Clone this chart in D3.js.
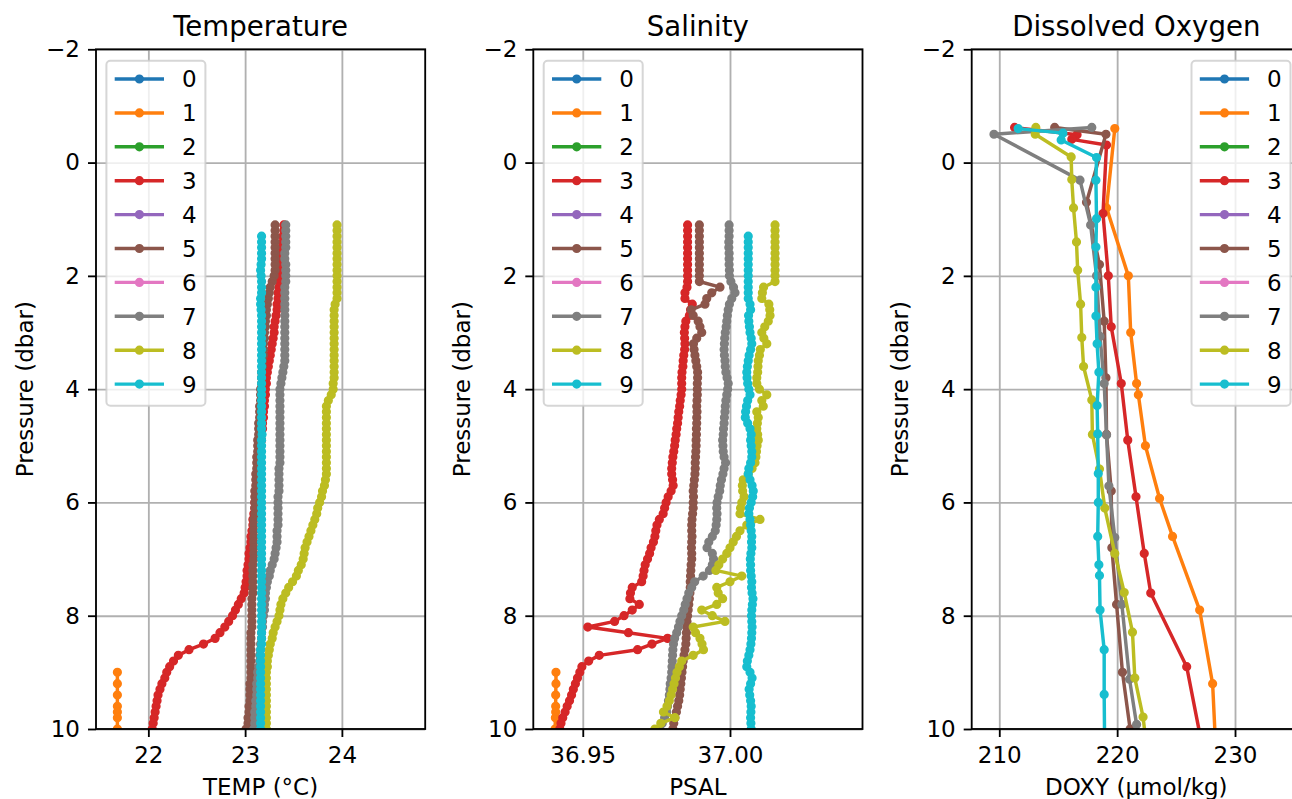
<!DOCTYPE html>
<html>
<head>
<meta charset="utf-8">
<script src="https://cdn.jsdelivr.net/npm/d3@7"></script>
<style>
  body { margin: 0; background: #fff; }
  svg { display: block; }
</style>
</head>
<body>
<div id="chart"></div>
<script>
// profile ids shown in the legends and their tab10 colours
const profileIds = ["0", "1", "2", "3", "4", "5", "6", "7", "8", "9"];
const profileColors = ["#1f77b4", "#ff7f0e", "#2ca02c", "#d62728", "#9467bd",
                       "#8c564b", "#e377c2", "#7f7f7f", "#bcbd22", "#17becf"];

// tick labels
const presTicks = [-2, 0, 2, 4, 6, 8, 10];
const tempTicks = [22, 23, 24];
const psalTicks = [36.95, 37.00];
const doxyTicks = [210, 220, 230];

// CTD pressure grid (dbar), profiles 3,5,7,8 start at 1.1, profile 9 at 1.3
const ctdPres = [1.1, 1.2, 1.3, 1.4, 1.5, 1.6, 1.7, 1.8, 1.9, 2.0,
  2.1, 2.2, 2.3, 2.4, 2.5, 2.6, 2.7, 2.8, 2.9, 3.0,
  3.1, 3.2, 3.3, 3.4, 3.5, 3.6, 3.7, 3.8, 3.9, 4.0,
  4.1, 4.2, 4.3, 4.4, 4.5, 4.6, 4.7, 4.8, 4.9, 5.0,
  5.1, 5.2, 5.3, 5.4, 5.5, 5.6, 5.7, 5.8, 5.9, 6.0,
  6.1, 6.2, 6.3, 6.4, 6.5, 6.6, 6.7, 6.8, 6.9, 7.0,
  7.1, 7.2, 7.3, 7.4, 7.5, 7.6, 7.7, 7.8, 7.9, 8.0,
  8.1, 8.2, 8.3, 8.4, 8.5, 8.6, 8.7, 8.8, 8.9, 9.0,
  9.1, 9.2, 9.3, 9.4, 9.5, 9.6, 9.7, 9.8, 9.9, 10.0,
  10.1];
const ctdPres9 = ctdPres.slice(2);
const ctdPres1 = [9.0, 9.2, 9.4, 9.6, 9.7, 9.8, 10.0, 10.2];

// temperature (°C)
const temp1 = [21.68, 21.68, 21.68, 21.68, 21.68, 21.68, 21.68, 21.68];
const temp3 = [23.40, 23.40, 23.39, 23.39, 23.38, 23.38, 23.37, 23.37, 23.36, 23.36,
  23.35, 23.35, 23.34, 23.34, 23.33, 23.33, 23.32, 23.31, 23.30, 23.30,
  23.29, 23.28, 23.27, 23.26, 23.25, 23.24, 23.23, 23.22, 23.22, 23.21,
  23.21, 23.20, 23.20, 23.19, 23.19, 23.18, 23.18, 23.17, 23.17, 23.16,
  23.16, 23.15, 23.15, 23.14, 23.14, 23.13, 23.12, 23.12, 23.11, 23.10,
  23.10, 23.09, 23.08, 23.08, 23.07, 23.06, 23.06, 23.05, 23.04, 23.04,
  23.03, 23.02, 23.02, 23.01, 23.00, 22.99, 22.96, 22.93, 22.90, 22.87,
  22.83, 22.79, 22.74, 22.69, 22.57, 22.42, 22.31, 22.26, 22.22, 22.19,
  22.17, 22.14, 22.12, 22.10, 22.09, 22.08, 22.07, 22.06, 22.05, 22.04,
  22.03];
const temp5 = [23.31, 23.31, 23.31, 23.31, 23.31, 23.31, 23.31, 23.31, 23.31, 23.30,
  23.28, 23.26, 23.25, 23.24, 23.23, 23.22, 23.22, 23.21, 23.21, 23.20,
  23.20, 23.19, 23.19, 23.19, 23.18, 23.18, 23.17, 23.17, 23.17, 23.16,
  23.16, 23.16, 23.15, 23.15, 23.15, 23.14, 23.14, 23.14, 23.13, 23.13,
  23.13, 23.12, 23.12, 23.12, 23.11, 23.11, 23.11, 23.10, 23.10, 23.10,
  23.10, 23.10, 23.09, 23.09, 23.09, 23.09, 23.09, 23.09, 23.09, 23.09,
  23.08, 23.08, 23.08, 23.08, 23.08, 23.08, 23.07, 23.07, 23.07, 23.07,
  23.07, 23.07, 23.06, 23.06, 23.06, 23.06, 23.06, 23.06, 23.06, 23.06,
  23.06, 23.05, 23.05, 23.05, 23.05, 23.04, 23.04, 23.03, 23.03, 23.01,
  23.00];
const temp7 = [23.42, 23.42, 23.42, 23.42, 23.42, 23.41, 23.41, 23.42, 23.42, 23.42,
  23.42, 23.41, 23.41, 23.41, 23.41, 23.41, 23.41, 23.41, 23.41, 23.41,
  23.41, 23.41, 23.41, 23.41, 23.41, 23.40, 23.39, 23.38, 23.37, 23.36,
  23.36, 23.36, 23.36, 23.36, 23.36, 23.36, 23.36, 23.36, 23.36, 23.36,
  23.36, 23.36, 23.36, 23.35, 23.35, 23.35, 23.35, 23.35, 23.34, 23.34,
  23.34, 23.34, 23.34, 23.34, 23.33, 23.33, 23.33, 23.32, 23.31, 23.30,
  23.28, 23.26, 23.25, 23.23, 23.22, 23.21, 23.21, 23.20, 23.20, 23.19,
  23.18, 23.18, 23.17, 23.17, 23.16, 23.16, 23.15, 23.15, 23.14, 23.13,
  23.13, 23.12, 23.12, 23.12, 23.11, 23.11, 23.10, 23.10, 23.10, 23.09,
  23.09];
const temp8 = [23.95, 23.95, 23.95, 23.95, 23.95, 23.95, 23.95, 23.95, 23.95, 23.95,
  23.95, 23.95, 23.95, 23.95, 23.93, 23.92, 23.92, 23.92, 23.92, 23.92,
  23.92, 23.92, 23.92, 23.92, 23.92, 23.92, 23.92, 23.92, 23.91, 23.91,
  23.89, 23.86, 23.84, 23.84, 23.84, 23.84, 23.84, 23.84, 23.84, 23.84,
  23.84, 23.84, 23.84, 23.84, 23.84, 23.83, 23.82, 23.80, 23.79, 23.77,
  23.75, 23.74, 23.72, 23.70, 23.68, 23.66, 23.64, 23.62, 23.61, 23.60,
  23.58, 23.55, 23.53, 23.49, 23.45, 23.42, 23.39, 23.37, 23.36, 23.35,
  23.33, 23.31, 23.29, 23.28, 23.26, 23.25, 23.24, 23.23, 23.23, 23.22,
  23.22, 23.22, 23.22, 23.22, 23.22, 23.22, 23.22, 23.22, 23.22, 23.22,
  23.22];
const temp9 = [23.17, 23.17, 23.17, 23.17, 23.17, 23.165, 23.16, 23.165,
  23.17, 23.17, 23.17, 23.16, 23.16, 23.165, 23.17, 23.17, 23.17, 23.17,
  23.17, 23.17, 23.17, 23.17, 23.17, 23.17, 23.17, 23.17, 23.17, 23.17,
  23.17, 23.17, 23.17, 23.17, 23.17, 23.17, 23.17, 23.175, 23.17, 23.17,
  23.17, 23.17, 23.17, 23.17, 23.17, 23.17, 23.17, 23.17, 23.17, 23.17,
  23.17, 23.17, 23.17, 23.17, 23.17, 23.17, 23.17, 23.17, 23.17, 23.17,
  23.17, 23.17, 23.17, 23.17, 23.17, 23.17, 23.17, 23.17, 23.17, 23.17,
  23.17, 23.17, 23.17, 23.17, 23.17, 23.16, 23.16, 23.16, 23.16, 23.16,
  23.16, 23.16, 23.16, 23.16, 23.16, 23.16, 23.16, 23.16, 23.16, 23.16,
  23.16];

// practical salinity
const psal1 = [36.9409, 36.9409, 36.9408, 36.9408, 36.9408, 36.9407, 36.9406, 36.9405];
const psal3 = [36.9856, 36.9856, 36.9856, 36.9856, 36.9856, 36.9856, 36.9856, 36.9856, 36.9856, 36.9856,
  36.9856, 36.9854, 36.9847, 36.9847, 36.9872, 36.9866, 36.9862, 36.9850, 36.9847, 36.9845,
  36.9846, 36.9847, 36.9846, 36.9843, 36.9841, 36.9840, 36.9837, 36.9836, 36.9836, 36.9836,
  36.9834, 36.9831, 36.9829, 36.9826, 36.9824, 36.9822, 36.9819, 36.9817, 36.9814, 36.9812,
  36.9809, 36.9806, 36.9804, 36.9802, 36.9802, 36.9805, 36.9807, 36.9800, 36.9790, 36.9783,
  36.9778, 36.9773, 36.9760, 36.9752, 36.9748, 36.9745, 36.9740, 36.9732, 36.9727, 36.9720,
  36.9712, 36.9708, 36.9705, 36.9700, 36.9668, 36.9662, 36.9660, 36.9692, 36.9668, 36.9640,
  36.9608, 36.9517, 36.9655, 36.9788, 36.9735, 36.9686, 36.9556, 36.9520, 36.9497, 36.9490,
  36.9482, 36.9475, 36.9468, 36.9462, 36.9455, 36.9447, 36.9440, 36.9432, 36.9426, 36.9422,
  36.9418];
const psal5 = [36.9896, 36.9896, 36.9896, 36.9896, 36.9896, 36.9896, 36.9896, 36.9896, 36.9896, 36.9896,
  36.9896, 36.9966, 36.9938, 36.9921, 36.9915, 36.9868, 36.9875, 36.9892, 36.9898, 36.9904,
  36.9887, 36.9876, 36.9878, 36.9881, 36.9884, 36.9887, 36.9890, 36.9890, 36.9889, 36.9889,
  36.9889, 36.9888, 36.9887, 36.9888, 36.9887, 36.9887, 36.9886, 36.9886, 36.9885, 36.9885,
  36.9884, 36.9883, 36.9882, 36.9882, 36.9881, 36.9879, 36.9877, 36.9875, 36.9876, 36.9875,
  36.9875, 36.9873, 36.9871, 36.9870, 36.9870, 36.9871, 36.9870, 36.9869, 36.9870, 36.9870,
  36.9868, 36.9867, 36.9866, 36.9865, 36.9865, 36.9864, 36.9862, 36.9860, 36.9858, 36.9856,
  36.9854, 36.9853, 36.9852, 36.9851, 36.9850, 36.9847, 36.9844, 36.9841, 36.9839, 36.9837,
  36.9835, 36.9833, 36.9831, 36.9829, 36.9826, 36.9822, 36.9818, 36.9813, 36.9809, 36.9806,
  36.9803];
const psal7 = [36.9997, 36.9997, 36.9997, 36.9996, 36.9996, 36.9997, 36.9997, 36.9997, 36.9998, 36.9998,
  37.0003, 37.0012, 37.0017, 37.0006, 36.9998, 36.9994, 36.9991, 36.9989, 36.9987, 36.9984,
  36.9982, 36.9981, 36.9980, 36.9981, 36.9983, 36.9984, 36.9986, 36.9990, 36.9994, 36.9992,
  36.9989, 36.9986, 36.9984, 36.9983, 36.9981, 36.9980, 36.9978, 36.9977, 36.9975, 36.9976,
  36.9977, 36.9980, 36.9985, 36.9980, 36.9976, 36.9971, 36.9967, 36.9965, 36.9960, 36.9956,
  36.9955, 36.9956, 36.9955, 36.9953, 36.9950, 36.9940, 36.9928, 36.9922, 36.9940, 36.9944,
  36.9940, 36.9930, 36.9909, 36.9880, 36.9870, 36.9860, 36.9854, 36.9848, 36.9843, 36.9836,
  36.9830, 36.9825, 36.9819, 36.9812, 36.9808, 36.9806, 36.9805, 36.9804, 36.9803, 36.9802,
  36.9800, 36.9797, 36.9796, 36.9794, 36.9791, 36.9788, 36.9785, 36.9778, 36.9770, 36.9762,
  36.9755];
const psal8 = [37.0153, 37.0153, 37.0153, 37.0153, 37.0153, 37.0153, 37.0153, 37.0153, 37.0153, 37.0153,
  37.0153, 37.0114, 37.0110, 37.0108, 37.0132, 37.0135, 37.0136, 37.0130, 37.0118, 37.0108,
  37.0115, 37.0125, 37.0103, 37.0100, 37.0096, 37.0095, 37.0094, 37.0091, 37.0091, 37.0100,
  37.0125, 37.0108, 37.0113, 37.0091, 37.0096, 37.0093, 37.0091, 37.0094, 37.0096, 37.0092,
  37.0090, 37.0088, 37.0085, 37.0075, 37.0062, 37.0045, 37.0042, 37.0043, 37.0048, 37.0040,
  37.0036, 37.0034, 37.0102, 37.0057, 37.0034, 37.0022, 37.0011, 37.0000, 36.9989, 36.9975,
  36.9962, 36.9952, 37.0040, 37.0000, 36.9955, 36.9960, 36.9975, 36.9955, 36.9904, 36.9940,
  36.9983, 36.9875, 36.9883, 36.9898, 36.9905, 36.9910, 36.9875, 36.9836, 36.9828, 36.9820,
  36.9815, 36.9810, 36.9805, 36.9800, 36.9794, 36.9786, 36.9774, 36.9813, 36.9765, 36.9745,
  36.9738];
const psal9 = [37.0062, 37.0062, 37.0062, 37.0062, 37.0062, 37.0062, 37.0062, 37.0062,
  37.0062, 37.0062, 37.0062, 37.0062, 37.0068, 37.0070, 37.0063, 37.0064, 37.0066, 37.0068,
  37.0072, 37.0074, 37.0070, 37.0065, 37.0062, 37.0059, 37.0057, 37.0058, 37.0060, 37.0064,
  37.0068, 37.0060, 37.0056, 37.0053, 37.0052, 37.0060, 37.0068, 37.0072, 37.0070, 37.0072,
  37.0074, 37.0074, 37.0070, 37.0064, 37.0062, 37.0068, 37.0075, 37.0079, 37.0077, 37.0072,
  37.0066, 37.0064, 37.0068, 37.0070, 37.0072, 37.0074, 37.0073, 37.0074, 37.0071, 37.0069,
  37.0070, 37.0070, 37.0072, 37.0074, 37.0073, 37.0075, 37.0078, 37.0076, 37.0074, 37.0073,
  37.0074, 37.0075, 37.0074, 37.0073, 37.0071, 37.0068, 37.0064, 37.0059, 37.0057, 37.0068,
  37.0075, 37.0070, 37.0065, 37.0067, 37.0070, 37.0072, 37.0071, 37.0070, 37.0071, 37.0072,
  37.0072];

// dissolved oxygen (µmol/kg), optode samples with their own pressures
const doxyPres1 = [-0.6, 0.8, 2.0, 3.0, 3.9, 4.1, 5.0, 5.93, 6.6, 7.9, 9.2, 10.5];
const doxy1 = [219.8, 219.1, 220.95, 221.15, 221.65, 221.8, 222.4, 223.6, 224.7, 227.0, 228.1, 228.4];
const doxyPres3 = [-0.62, -0.49, -0.41, -0.31, 0.9, 2.0, 2.9, 3.9, 4.9, 5.9, 6.9, 7.6, 8.9, 10.5];
const doxy3 = [211.3, 216.6, 216.15, 219.1, 218.8, 219.25, 219.5, 220.35, 220.9, 221.6, 222.3, 222.85, 225.9, 227.4];
const doxyPres5 = [-0.62, -0.5, 0.7, 1.8, 2.8, 3.8, 4.8, 5.8, 6.8, 7.8, 9.0, 10.0, 10.5];
const doxy5 = [214.7, 219.05, 217.4, 218.5, 218.9, 219.05, 219.1, 219.5, 219.55, 219.95, 220.45, 221.1, 221.5];
const doxyPres7 = [-0.62, -0.5, 0.31, 1.1, 2.0, 3.07, 3.9, 4.81, 5.71, 6.62, 7.8, 9.12, 9.92, 10.5];
const doxy7 = [217.85, 209.55, 216.85, 217.75, 218.25, 218.55, 218.9, 219.1, 219.3, 219.8, 220.4, 221.05, 221.65, 222.0];
const doxyPres8 = [-0.62, -0.5, -0.1, 0.3, 0.8, 1.4, 1.9, 2.5, 3.09, 3.6, 4.19, 4.8, 5.41, 6.1, 6.9, 7.59, 8.29, 9.1, 9.79, 10.5];
const doxy8 = [213.1, 213.05, 216.1, 216.15, 216.3, 216.55, 216.65, 216.9, 217.0, 217.15, 217.85, 217.9, 218.5, 218.95, 219.8, 220.6, 221.3, 221.5, 222.2, 222.6];
const doxyPres9 = [-0.6, -0.52, -0.4, -0.09, 0.31, 0.99, 1.49, 2.2, 2.71, 3.2, 3.7, 4.29, 4.79, 5.49, 6.0, 6.6, 7.1, 7.29, 7.9, 8.6, 9.39, 10.5];
const doxy9 = [211.6, 215.4, 215.25, 218.25, 218.2, 218.25, 218.2, 218.2, 218.2, 218.3, 218.45, 218.3, 218.35, 218.4, 218.4, 218.35, 218.45, 218.5, 218.55, 218.9, 218.9, 218.95];

// pair pressure and value arrays into points
function zip(pres, vals) {
  return pres.map((p, i) => ({p: p, v: vals[i]}));
}

// profiles 0, 2, 4, 6 have nothing to draw here
const tempSeries = [[], zip(ctdPres1, temp1), [], zip(ctdPres, temp3), [], zip(ctdPres, temp5),
                    [], zip(ctdPres, temp7), zip(ctdPres, temp8), zip(ctdPres9, temp9)];
const psalSeries = [[], zip(ctdPres1, psal1), [], zip(ctdPres, psal3), [], zip(ctdPres, psal5),
                    [], zip(ctdPres, psal7), zip(ctdPres, psal8), zip(ctdPres9, psal9)];
const doxySeries = [[], zip(doxyPres1, doxy1), [], zip(doxyPres3, doxy3), [], zip(doxyPres5, doxy5),
                    [], zip(doxyPres7, doxy7), zip(doxyPres8, doxy8), zip(doxyPres9, doxy9)];

// layout
const W = 1292, H = 799;
const plotTop = 49.3, plotBottom = 729, plotW = 329.2;
const fontPx = 23;
const titlePx = 27.6;
const lw = 3.45;      // line width
const mr = 3.45;      // marker radius
const mew = 2.3;      // marker edge width
const tickLen = 8;
const font = "'DejaVu Sans', sans-serif";

const svg = d3.select("#chart").append("svg")
  .attr("width", W)
  .attr("height", H)
  .style("font-family", font);

// pressure axis is inverted: -2 at the top
const y = d3.scaleLinear().domain([-2, 10]).range([plotTop, plotBottom]);

const panels = [
  {title: "Temperature", label: "TEMP (°C)", left: 96, domain: [21.459, 24.861],
   ticks: tempTicks, fmt: d3.format("d"), series: tempSeries, legend: "left"},
  {title: "Salinity", label: "PSAL", left: 533.3, domain: [36.9332, 37.0450],
   ticks: psalTicks, fmt: d3.format(".2f"), series: psalSeries, legend: "left"},
  {title: "Dissolved Oxygen", label: "DOXY (µmol/kg)", left: 971.7, domain: [207.66, 235.59],
   ticks: doxyTicks, fmt: d3.format("d"), series: doxySeries, legend: "right"}
];

panels.forEach((p, k) => {
  const x = d3.scaleLinear().domain(p.domain).range([p.left, p.left + plotW]);
  const g = svg.append("g");

  // grid
  g.append("g")
    .attr("transform", `translate(0,${plotBottom})`)
    .call(d3.axisBottom(x).tickValues(p.ticks).tickSize(-(plotBottom - plotTop)).tickFormat(""))
    .call(a => a.select(".domain").remove())
    .selectAll("line").attr("stroke", "#b0b0b0").attr("stroke-width", 1.84);
  g.append("g")
    .attr("transform", `translate(${p.left},0)`)
    .call(d3.axisLeft(y).tickValues(presTicks).tickSize(-plotW).tickFormat(""))
    .call(a => a.select(".domain").remove())
    .selectAll("line").attr("stroke", "#b0b0b0").attr("stroke-width", 1.84);

  // profiles, clipped to the axes box
  svg.append("clipPath").attr("id", "clip" + k)
    .append("rect")
    .attr("x", p.left).attr("y", plotTop)
    .attr("width", plotW).attr("height", plotBottom - plotTop);
  const plot = g.append("g").attr("clip-path", `url(#clip${k})`);
  const line = d3.line().x(d => x(d.v)).y(d => y(d.p));

  p.series.forEach((s, i) => {
    if (!s.length) return;
    plot.append("path")
      .datum(s)
      .attr("d", line)
      .attr("fill", "none")
      .attr("stroke", profileColors[i])
      .attr("stroke-width", lw)
      .attr("stroke-linejoin", "round");
    plot.append("g").selectAll("circle")
      .data(s)
      .join("circle")
        .attr("cx", d => x(d.v))
        .attr("cy", d => y(d.p))
        .attr("r", mr)
        .attr("fill", profileColors[i])
        .attr("stroke", profileColors[i])
        .attr("stroke-width", mew);
  });

  // spines
  g.append("rect")
    .attr("x", p.left).attr("y", plotTop)
    .attr("width", plotW).attr("height", plotBottom - plotTop)
    .attr("fill", "none").attr("stroke", "#000").attr("stroke-width", 1.84);

  // axes
  const xAxis = g.append("g")
    .attr("transform", `translate(0,${plotBottom})`)
    .call(d3.axisBottom(x).tickValues(p.ticks).tickFormat(p.fmt)
      .tickSize(tickLen).tickPadding(10).tickSizeOuter(0));
  const yAxis = g.append("g")
    .attr("transform", `translate(${p.left},0)`)
    .call(d3.axisLeft(y).tickValues(presTicks).tickFormat(d3.format("d"))
      .tickSize(tickLen).tickPadding(8).tickSizeOuter(0));
  [xAxis, yAxis].forEach(a => {
    a.attr("font-size", fontPx).attr("font-family", font).attr("color", "#000");
    a.select(".domain").remove();
    a.selectAll(".tick line").attr("stroke-width", 1.84);
  });

  // title and axis labels
  g.append("text")
    .attr("x", p.left + plotW / 2).attr("y", 35.5)
    .attr("text-anchor", "middle")
    .attr("font-size", titlePx)
    .text(p.title);
  g.append("text")
    .attr("x", p.left + plotW / 2).attr("y", 795)
    .attr("text-anchor", "middle")
    .attr("font-size", fontPx)
    .text(p.label);
  g.append("text")
    .attr("transform", `translate(${p.left - 63.5},${(plotTop + plotBottom) / 2}) rotate(-90)`)
    .attr("text-anchor", "middle")
    .attr("font-size", fontPx)
    .text("Pressure (dbar)");

  // legend
  const lgW = 99, lgH = 345;
  const lgX = p.legend === "left" ? p.left + 10.4 : p.left + plotW - 10.4 - lgW;
  const lgY = plotTop + 11.4;
  const lg = g.append("g");
  lg.append("rect")
    .attr("x", lgX).attr("y", lgY)
    .attr("width", lgW).attr("height", lgH)
    .attr("rx", 4)
    .attr("fill", "#fff").attr("fill-opacity", 0.8)
    .attr("stroke", "#cccccc").attr("stroke-opacity", 0.8)
    .attr("stroke-width", 2);
  const items = lg.selectAll("g.item")
    .data(profileIds)
    .join("g")
      .attr("class", "item")
      .attr("transform", (d, i) => `translate(${lgX},${lgY + 18.3 + i * 33.9})`);
  items.append("line")
    .attr("x1", 8.3).attr("x2", 57.6)
    .attr("stroke", (d, i) => profileColors[i])
    .attr("stroke-width", lw);
  items.append("circle")
    .attr("cx", 33).attr("r", mr)
    .attr("fill", (d, i) => profileColors[i])
    .attr("stroke", (d, i) => profileColors[i])
    .attr("stroke-width", mew);
  items.append("text")
    .attr("x", 75.6).attr("y", 8.4)
    .attr("font-size", fontPx)
    .text(d => d);
});
</script>
</body>
</html>
